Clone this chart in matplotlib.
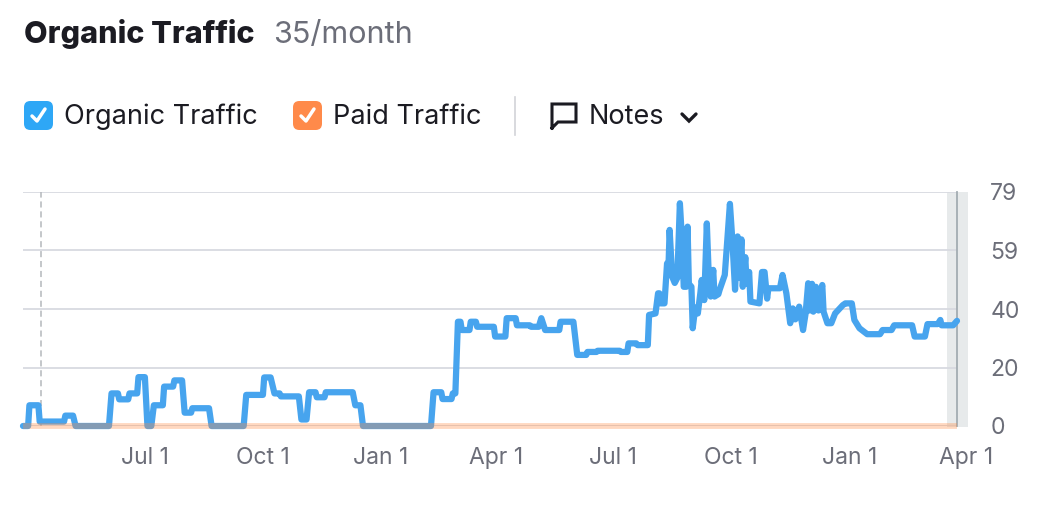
import matplotlib
matplotlib.use("Agg")
import matplotlib.pyplot as plt
import pandas as pd
from matplotlib.patches import FancyBboxPatch, Rectangle
from matplotlib.lines import Line2D

plt.rcParams['font.family'] = ['Inter', 'DejaVu Sans']

# organic traffic
org_dates = [
    "2022-03-28", "2022-04-01", "2022-04-02", "2022-04-09", "2022-04-10", "2022-04-29", "2022-04-30", "2022-05-06", "2022-05-08",
    "2022-06-03", "2022-06-05", "2022-06-10", "2022-06-11", "2022-06-18", "2022-06-19", "2022-06-25", "2022-06-26", "2022-07-01", "2022-07-03",
    "2022-07-06", "2022-07-08", "2022-07-15", "2022-07-16", "2022-07-23", "2022-07-24", "2022-07-30", "2022-08-01", "2022-08-06", "2022-08-07", "2022-08-20", "2022-08-22",
    "2022-09-16", "2022-09-18", "2022-10-01", "2022-10-02", "2022-10-07", "2022-10-10", "2022-10-14", "2022-10-15", "2022-10-29", "2022-10-31",
    "2022-11-04", "2022-11-06", "2022-11-11", "2022-11-12", "2022-11-18", "2022-11-19", "2022-12-10", "2022-12-12", "2022-12-16", "2022-12-18",
    "2023-02-09", "2023-02-11", "2023-02-17", "2023-02-18", "2023-02-25", "2023-02-26", "2023-02-28", "2023-03-02", "2023-03-04", "2023-03-05",
    "2023-03-11", "2023-03-12", "2023-03-16", "2023-03-17", "2023-03-30", "2023-03-31", "2023-04-08", "2023-04-09", "2023-04-16", "2023-04-17",
    "2023-04-27", "2023-04-28", "2023-05-04", "2023-05-06", "2023-05-09", "2023-05-20", "2023-05-21", "2023-05-31",
    "2023-06-03", "2023-06-10", "2023-06-11", "2023-06-18", "2023-06-19", "2023-07-06", "2023-07-07", "2023-07-12", "2023-07-13", "2023-07-19",
    "2023-07-20", "2023-07-28", "2023-07-29", "2023-08-03", "2023-08-05", "2023-08-06", "2023-08-07", "2023-08-10", "2023-08-12", "2023-08-13",
    "2023-08-14", "2023-08-16", "2023-08-18", "2023-08-20", "2023-08-22", "2023-08-24", "2023-08-25", "2023-08-27", "2023-08-28", "2023-08-29", "2023-08-31",
    "2023-09-01", "2023-09-03", "2023-09-05", "2023-09-07", "2023-09-08", "2023-09-10", "2023-09-12", "2023-09-14", "2023-09-15", "2023-09-17",
    "2023-09-18", "2023-09-21", "2023-09-22", "2023-09-26", "2023-09-28", "2023-09-30",
    "2023-10-02", "2023-10-04", "2023-10-06", "2023-10-07", "2023-10-09", "2023-10-10", "2023-10-12", "2023-10-13", "2023-10-15", "2023-10-16",
    "2023-10-23", "2023-10-25", "2023-10-27", "2023-10-29", "2023-10-30",
    "2023-11-08", "2023-11-10", "2023-11-13", "2023-11-16", "2023-11-18", "2023-11-20", "2023-11-23", "2023-11-26", "2023-11-28", "2023-11-30",
    "2023-12-01", "2023-12-03", "2023-12-04", "2023-12-06", "2023-12-08", "2023-12-09", "2023-12-11", "2023-12-12", "2023-12-15", "2023-12-18",
    "2023-12-21", "2023-12-27", "2023-12-29",
    "2024-01-03", "2024-01-05", "2024-01-09", "2024-01-15", "2024-01-25", "2024-01-27", "2024-02-03", "2024-02-05", "2024-02-19", "2024-02-21",
    "2024-02-29", "2024-03-02", "2024-03-10", "2024-03-12", "2024-03-13", "2024-03-22", "2024-03-25",
]
org_values = [
    0, 0, 7, 7, 1.5, 1.5, 3.5, 3.5, 0,
    0, 11, 11, 9, 9, 11, 11, 16.5, 16.5, 0,
    0, 7, 7, 13.3, 13.3, 15.4, 15.4, 4.5, 4.5, 6, 6, 0,
    0, 10.5, 10.5, 16.4, 16.4, 11, 11, 10, 10, 2.2,
    2.2, 11.4, 11.4, 9.7, 9.7, 11.4, 11.4, 7, 7, 0,
    0, 11.4, 11.4, 9.1, 9.1, 11, 11, 35.2, 35.2, 32.4,
    32.4, 35.2, 35.2, 33.5, 33.5, 30.2, 30.2, 36.4, 36.4, 34,
    34, 33.5, 33.5, 36.4, 32.4, 32.4, 35.2, 35.2,
    24, 24, 25, 25, 25.4, 25.4, 25, 25, 27.9, 27.9,
    27.3, 27.3, 37.5, 38, 44.8, 44.8, 41.4, 41.4, 54.9, 52,
    66.2, 50.4, 48.3, 50, 75.2, 60, 47, 47, 67.3, 48, 47,
    33, 40, 38, 45, 49.3, 42.5, 68.4, 45, 43.7, 52.7,
    43.7, 44.5, 46, 51, 63, 75,
    62, 46, 64, 50, 63, 47, 57, 48, 52, 42,
    41.4, 52, 52, 43, 46.5,
    46.5, 51, 44.8, 34.7, 39.7, 36, 40.3, 32.4, 38, 48.2,
    39, 48, 38.6, 47, 39, 44, 47.6, 38.6, 34.7, 34.7,
    38, 40.8, 41.4,
    41.4, 35.8, 33, 31, 31, 32.4, 32.4, 34, 34, 30.2,
    30.2, 34.4, 34.4, 35.8, 34, 34, 35.5,
]

# paid traffic stays at zero
paid_dates = ["2022-03-28", "2024-03-25"]
paid_values = [0, 0]

x_ticks = ["2022-07-01", "2022-10-01", "2023-01-01", "2023-04-01",
           "2023-07-01", "2023-10-01", "2024-01-01", "2024-04-01"]
x_tick_labels = ["Jul 1", "Oct 1", "Jan 1", "Apr 1", "Jul 1", "Oct 1", "Jan 1", "Apr 1"]
y_max = 79
y_tick_labels = ["0", "20", "40", "59", "79"]
note_date = "2022-04-11"

W, H = 1054, 530
fig = plt.figure(figsize=(W / 100, H / 100), dpi=100)


def fx(x):
    return x / W


def fy(y):
    return 1 - y / H


ax = fig.add_axes([fx(23), fy(426), (957 - 23) / W, (426 - 192) / H])

dark = "#1b1b22"
grey_txt = "#6c6e79"

od = pd.to_datetime(org_dates)
pdts = pd.to_datetime(paid_dates)

ax.plot(od, org_values, color="#47a4ee", lw=4.5, solid_joinstyle="round",
        solid_capstyle="round", zorder=3, clip_on=False)
ax.plot(pdts, paid_values, color="#ff8a40", alpha=0.33, lw=4.2, zorder=4,
        clip_on=False, solid_capstyle="butt")

ax.set_xlim(pdts[0], pdts[-1])
ax.set_ylim(0, y_max)

# grid
yt = [y_max * i / 4 for i in range(5)]
ax.set_yticks(yt)
ax.set_yticklabels(y_tick_labels)
ax.yaxis.tick_right()
ax.tick_params(axis="y", length=0, pad=24, labelsize=16.5, labelcolor=grey_txt)
ax.grid(axis="y", color="#d8dae0", lw=1.3, zorder=0)
ax.set_axisbelow(True)
ax.set_xticks([])
for s in ["top", "left", "bottom"]:
    ax.spines[s].set_visible(False)
ax.spines["right"].set_color("#a3acb2")
ax.spines["right"].set_linewidth(1.3)
ax.spines["right"].set_zorder(2.5)

# x tick labels (last one sits past the data edge)
for d, lbl in zip(pd.to_datetime(x_ticks), x_tick_labels):
    ax.annotate(lbl, xy=(d, 0), xycoords=("data", "axes fraction"),
                xytext=(0, -15), textcoords="offset points", ha="center", va="top",
                fontsize=16.5, color=grey_txt, annotation_clip=False)

# dashed note marker
ax.axvline(pd.Timestamp(note_date), color="#b4b8bc", lw=1.1, ls=(0, (4, 2.5)), zorder=1)

# grey band at the right end
band = Rectangle((fx(947), fy(427)), (968 - 947) / W, (427 - 192) / H,
                 transform=fig.transFigure, facecolor="#e7eaeb", edgecolor="none",
                 zorder=0.5, clip_on=False)
ax.add_patch(band)

# title
fig.text(fx(24), fy(43), "Organic Traffic", fontsize=22, weight="heavy", color=dark, va="baseline")
fig.text(fx(273), fy(43), "35/month", fontsize=22, color=grey_txt, va="baseline")


# legend checkboxes
def checkbox(x0, color):
    box = FancyBboxPatch((fx(x0), fy(130)), 29 / W, 29 / H,
                         boxstyle="round,pad=0,rounding_size=0.006",
                         transform=fig.transFigure, facecolor=color, edgecolor="none",
                         mutation_aspect=W / H)
    fig.patches.append(box)
    fig.lines.append(Line2D([fx(x0 + 8), fx(x0 + 13), fx(x0 + 21)],
                            [fy(116), fy(121), fy(109)], transform=fig.transFigure,
                            color="white", lw=2.5, solid_capstyle="round",
                            solid_joinstyle="round"))


checkbox(24, "#2ea7f6")
fig.text(fx(64), fy(124), "Organic Traffic", fontsize=19.5, color=dark, va="baseline")
checkbox(293, "#ff8a4a")
fig.text(fx(333), fy(124), "Paid Traffic", fontsize=19.5, color=dark, va="baseline")

# separator
fig.lines.append(Line2D([fx(515), fx(515)], [fy(97), fy(135)], transform=fig.transFigure,
                        color="#d2d3d8", lw=1.2))

# notes icon
fig.lines.append(Line2D([fx(552), fx(552), fx(576), fx(576), fx(558), fx(552)],
                        [fy(128), fy(104), fy(104), fy(122), fy(122), fy(128)],
                        transform=fig.transFigure, color=dark, lw=2.2,
                        solid_joinstyle="miter"))
fig.text(fx(589), fy(124), "Notes", fontsize=19.5, color=dark, va="baseline")
fig.lines.append(Line2D([fx(682), fx(689), fx(696)], [fy(114), fy(121), fy(114)],
                        transform=fig.transFigure, color=dark, lw=2.4,
                        solid_capstyle="round", solid_joinstyle="miter"))

fig.savefig("out.png", dpi=100, facecolor="white")
